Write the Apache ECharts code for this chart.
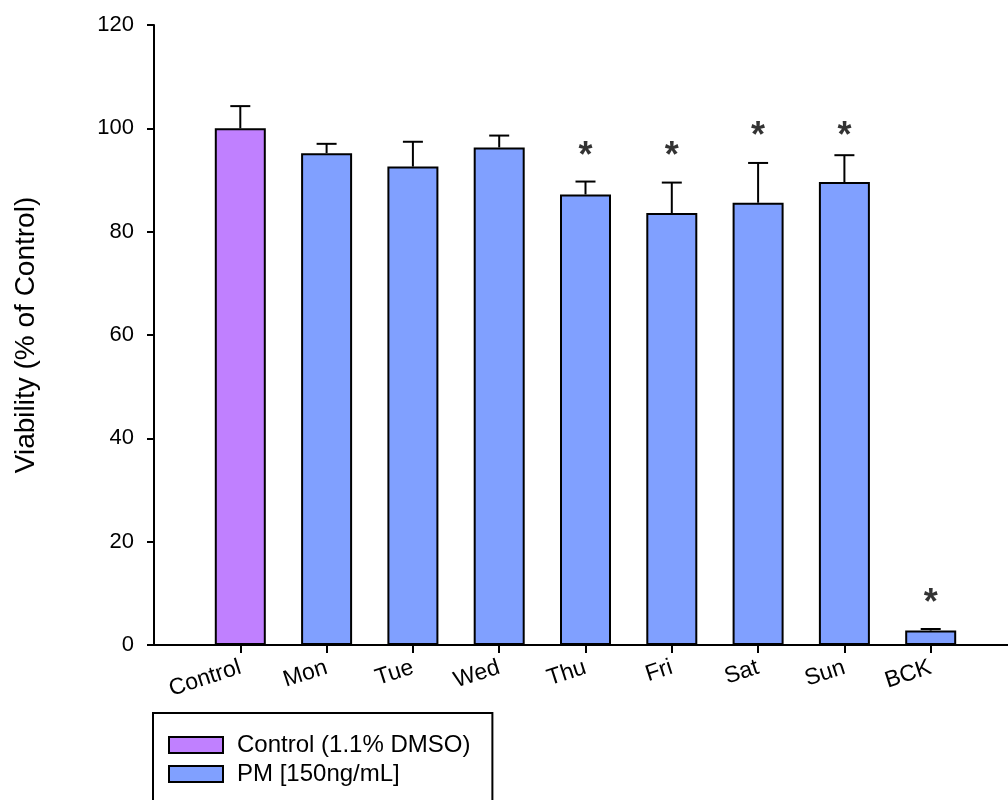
<!DOCTYPE html>
<html>
<head>
<meta charset="utf-8">
<script src="https://cdn.jsdelivr.net/npm/echarts@6/dist/echarts.min.js"></script>
<style>
  html, body { margin: 0; padding: 0; background: #fff; }
  #chart { width: 1008px; height: 800px; }
</style>
</head>
<body>
<div id="chart"></div>
<script>
// Cell viability after 24 h exposure, mean and SD per condition
const categories = ['Control', 'Mon', 'Tue', 'Wed', 'Thu', 'Fri', 'Sat', 'Sun', 'BCK'];
const means      = [100, 95.2, 92.6, 96.3, 87.2, 83.6, 85.6, 89.6, 2.8];
const errors     = [4.3, 1.8, 4.8, 2.3, 2.5, 5.9, 7.7, 5.2, 0.3];
// significance markers: category name and height of the asterisk
const starCats   = ['Thu', 'Fri', 'Sat', 'Sun', 'BCK'];
const starLevels = [96.0, 96.0, 99.8, 99.8, 9.5];
const yTicks     = [0, 20, 40, 60, 80, 100, 120];

const seriesNames = ['Control (1.1% DMSO)', 'PM [150ng/mL]'];
const colors = ['#C080FF', '#80A0FF'];

// axis slots: one empty slot on each side of the nine groups
const axisCats = [''].concat(categories, ['']);
const slot = name => axisCats.indexOf(name);

const controlData = axisCats.map((c, i) => (i === 1 ? means[0] : null));
const pmData = axisCats.map((c, i) => (i > 1 && i <= categories.length ? means[i - 1] : null));
const errData = categories.map((c, i) => [slot(c), means[i], means[i] + errors[i]]);
const starData = starCats.map((c, i) => [slot(c), starLevels[i]]);

const FONT = 'Liberation Sans, Arial, sans-serif';
const chart = echarts.init(document.getElementById('chart'), null, { renderer: 'canvas' });

chart.setOption({
  animation: false,
  backgroundColor: '#fff',
  grid: { left: 154, top: 25, width: 863, height: 620, outerBoundsMode: 'none', containLabel: false },
  legend: {
    data: seriesNames,
    orient: 'vertical',
    left: 153,
    top: 713,
    width: 340,
    height: 200,
    padding: [20, 22, 60, 15],
    itemWidth: 54,
    itemHeight: 16,
    itemGap: 5,
    borderColor: '#000',
    borderWidth: 2,
    borderRadius: 0,
    icon: 'rect',
    itemStyle: { borderColor: '#000', borderWidth: 2 },
    textStyle: { fontFamily: FONT, fontSize: 24, color: '#000', padding: [0, 0, 0, 9] }
  },
  xAxis: {
    type: 'category',
    data: axisCats,
    boundaryGap: false,
    axisLine: { lineStyle: { color: '#000', width: 2 } },
    axisTick: {
      interval: idx => idx > 0 && idx < axisCats.length - 1,
      length: 8,
      lineStyle: { color: '#000', width: 2 }
    },
    axisLabel: {
      interval: 0,
      rotate: 18,
      margin: 22,
      fontFamily: FONT,
      fontSize: 23,
      color: '#000'
    },
    splitLine: { show: false }
  },
  yAxis: {
    type: 'value',
    min: yTicks[0],
    max: yTicks[yTicks.length - 1],
    interval: yTicks[1] - yTicks[0],
    name: 'Viability (% of Control)',
    nameLocation: 'middle',
    nameGap: 114,
    nameTextStyle: { fontFamily: FONT, fontSize: 28, color: '#000' },
    axisLine: { show: true, lineStyle: { color: '#000', width: 2 } },
    axisTick: { show: true, length: 7, lineStyle: { color: '#000', width: 2 } },
    axisLabel: { margin: 20, fontFamily: FONT, fontSize: 22, color: '#000' },
    splitLine: { show: false }
  },
  series: [
    {
      name: seriesNames[0],
      type: 'bar',
      data: controlData,
      barWidth: 51,
      barGap: '-100%',
      itemStyle: { color: colors[0], borderColor: '#000', borderWidth: 2 }
    },
    {
      name: seriesNames[1],
      type: 'bar',
      data: pmData,
      barWidth: 51,
      barGap: '-100%',
      itemStyle: { color: colors[1], borderColor: '#000', borderWidth: 2 }
    },
    {
      name: 'sd',
      type: 'custom',
      data: errData,
      encode: { x: 0, y: [1, 2] },
      z: 3,
      renderItem: (params, api) => {
        const idx = api.value(0);
        const base = api.coord([idx, api.value(1)]);
        const top = api.coord([idx, api.value(2)]);
        const half = 10;
        const st = { stroke: '#000', lineWidth: 2 };
        return {
          type: 'group',
          children: [
            { type: 'line', shape: { x1: top[0], y1: base[1], x2: top[0], y2: top[1] }, style: st },
            { type: 'line', shape: { x1: top[0] - half, y1: top[1], x2: top[0] + half, y2: top[1] }, style: st }
          ]
        };
      }
    },
    {
      name: 'significance',
      type: 'scatter',
      data: starData,
      symbolSize: 1,
      itemStyle: { color: 'transparent' },
      label: {
        show: true,
        position: 'inside',
        formatter: '*',
        fontFamily: FONT,
        fontSize: 36,
        fontWeight: 'bold',
        color: '#000',
        offset: [0, 8]
      },
      z: 4
    }
  ]
});
</script>
</body>
</html>
